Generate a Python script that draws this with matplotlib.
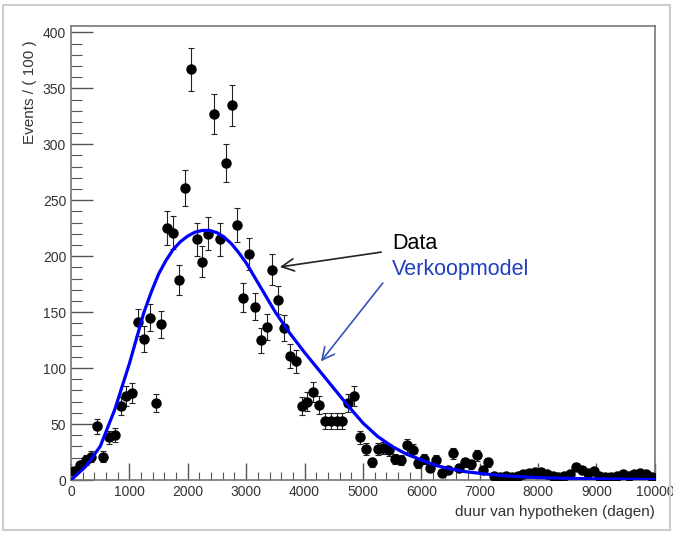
import matplotlib.pyplot as plt
import numpy as np

plt.rcParams['font.family'] = ['Liberation Sans', 'DejaVu Sans']

# histogram: 100 bins of 100 days
bin_centers = np.arange(50, 10000, 100)
counts = [8, 13, 18, 21, 48, 21, 38, 40, 66, 75,
          78, 141, 126, 145, 69, 139, 225, 221, 179, 261,
          367, 215, 195, 220, 327, 215, 283, 335, 228, 163,
          202, 155, 125, 137, 188, 161, 136, 111, 106, 66,
          70, 79, 67, 53, 53, 53, 53, 69, 75, 38,
          28, 16, 28, 29, 27, 19, 18, 31, 27, 15,
          19, 11, 18, 6, 9, 24, 11, 16, 14, 22,
          9, 16, 4, 3, 4, 3, 4, 5, 6, 7,
          7, 5, 4, 3, 4, 5, 12, 9, 6, 8,
          4, 3, 3, 4, 5, 4, 5, 6, 5, 3]

# fitted model curve
model_x = [0, 250, 500, 750, 1000, 1125, 1250, 1375, 1500, 1625,
           1750, 1875, 2000, 2125, 2250, 2375, 2500, 2625, 2750, 2875,
           3000, 3125, 3250, 3500, 3750, 4000, 4250, 4500, 4750,
           5000, 5250, 5500, 5750, 6000, 6250, 6500, 6750, 7000, 7250,
           7500, 7750, 8000, 8500, 9000, 9500, 10000]
model_y = [0, 12, 30, 63, 104, 127, 150, 168, 184, 196,
           206, 213, 218, 221.5, 223, 223, 221, 217, 211, 203,
           194, 183, 172, 150, 131, 114, 98, 82, 66,
           51, 39, 30, 23, 18, 13, 10, 7.5, 6, 4.5,
           3.5, 2.8, 2.2, 1.5, 1.0, 0.7, 0.5]

fig = plt.figure(figsize=(6.73, 5.33), dpi=100)
ax = fig.add_axes([0.1055, 0.0994, 0.8675, 0.8525])

counts = np.array(counts)
ax.errorbar(bin_centers, counts, yerr=np.sqrt(counts), fmt='o', color='black',
            ms=6.5, ecolor='#222222', elinewidth=0.8, capsize=2, capthick=0.8, zorder=3)
ax.plot(model_x, model_y, color='#0000ff', lw=2.3, zorder=4)

ax.set_xlim(0, 10000)
ax.set_ylim(0, 406)
ax.set_xticks(np.arange(0, 10001, 1000))
ax.set_xticks(np.arange(0, 10001, 200), minor=True)
ax.set_yticks(np.arange(0, 401, 50))
ax.set_yticks(np.arange(0, 401, 10), minor=True)
ax.tick_params(which='both', direction='in', top=False, right=False,
               labelsize=10, labelcolor='#333333', color='#555555')
ax.tick_params(which='major', length=16, width=1)
ax.tick_params(which='minor', length=8, width=0.8)
ax.tick_params(axis='x', which='major', length=12)
ax.tick_params(axis='x', which='minor', length=6)
for s in ax.spines.values():
    s.set_color('#777777')
    s.set_linewidth(1.2)

fig.text(0.045, 0.925, 'Events / ( 100 )', rotation=90, ha='center', va='top',
         fontsize=11, color='#333333')
fig.text(0.973, 0.039, 'duur van hypotheken (dagen)', ha='right', va='center',
         fontsize=11, color='#333333')

ax.text(5500, 211, 'Data', fontsize=15.5, color='black', va='center')
ax.text(5500, 188, 'Verkoopmodel', fontsize=15.5, color='#2040c0', va='center')
ax.annotate('', xy=(3530, 190), xytext=(5360, 204),
            arrowprops=dict(arrowstyle='->', color='#222222', lw=1.2,
                            mutation_scale=22))
ax.annotate('', xy=(4250, 104), xytext=(5370, 178),
            arrowprops=dict(arrowstyle='->', color='#3355bb', lw=1.2,
                            mutation_scale=22))

fig.patches.append(plt.Rectangle((0.004, 0.006), 0.992, 0.984, transform=fig.transFigure,
                                 fill=False, edgecolor='#cccccc', lw=1.5))

fig.savefig('out.png', dpi=100)
